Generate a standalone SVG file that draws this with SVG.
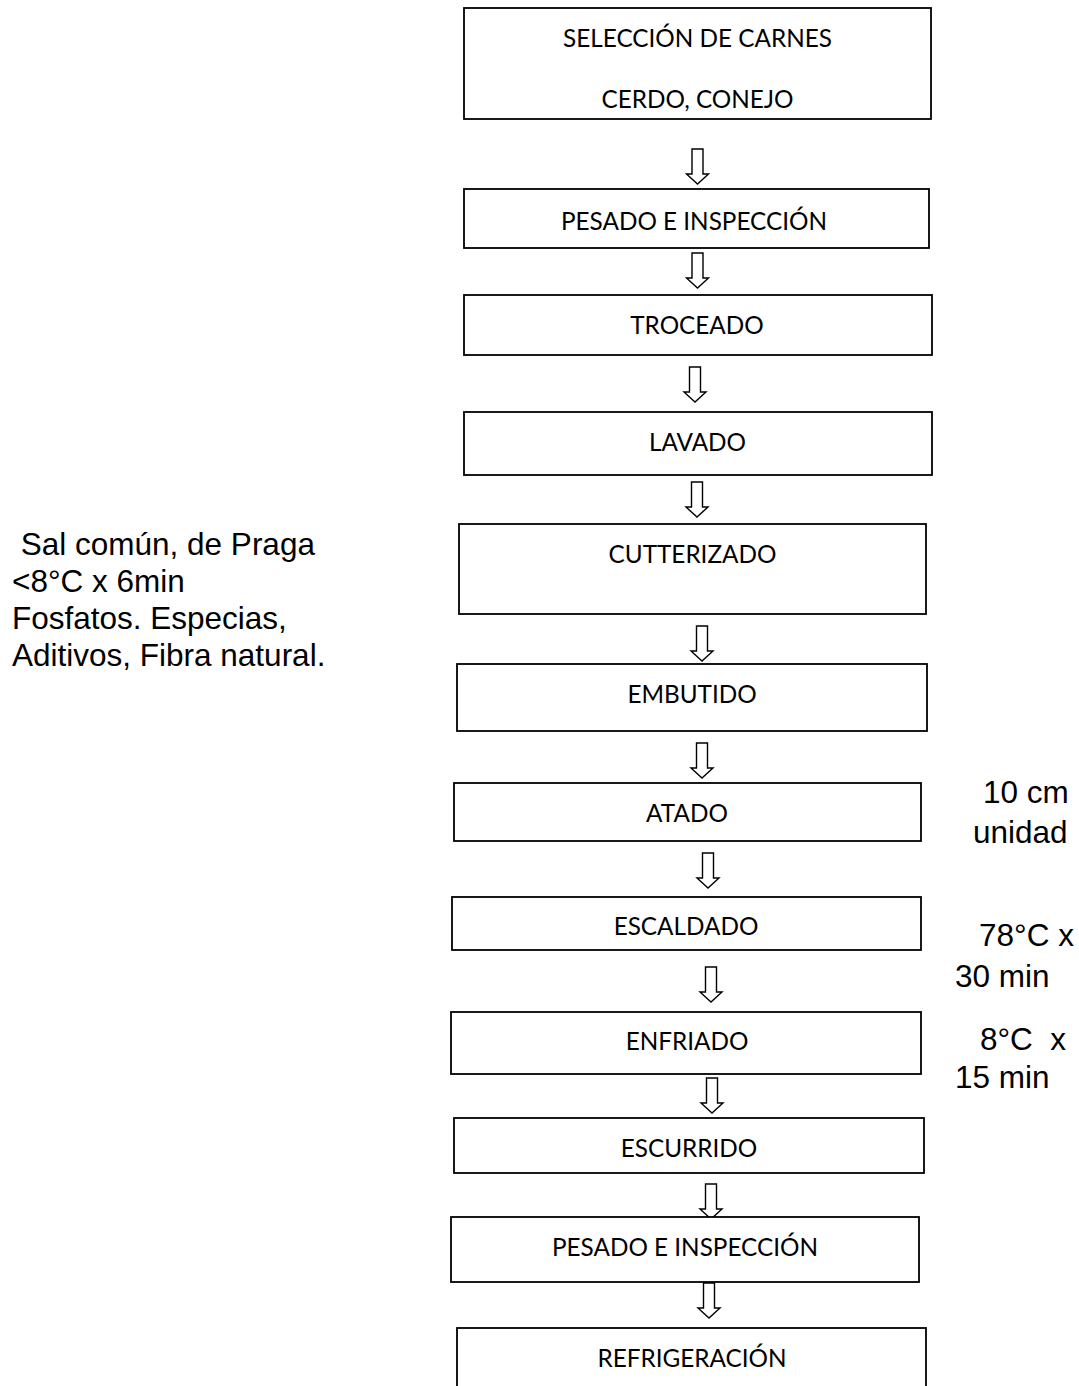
<svg xmlns="http://www.w3.org/2000/svg" xmlns:xlink="http://www.w3.org/1999/xlink" width="1079" height="1386" viewBox="0 0 1079 1386">
<style>
.box{fill:#fff;stroke:#000;stroke-width:1.8}
.t{font-family:Lato,"Liberation Sans",sans-serif;font-size:24.3px;fill:#000;text-anchor:middle}
.n{font-family:"Liberation Sans",Arial,sans-serif;font-size:31.5px;fill:#000}
.arr{fill:#fff;stroke:#000;stroke-width:1.4;stroke-linejoin:miter}
</style>
<defs>
<path id="arr" class="arr" d="M-5.5,0 H5.5 V25 H11 L0,35 L-11,25 H-5.5 Z"/>
</defs>
<rect width="1079" height="1386" fill="#fff"/>
<g id="connectors">
<use xlink:href="#arr" x="697.5" y="149"/>
<use xlink:href="#arr" x="697.5" y="253"/>
<use xlink:href="#arr" x="695" y="367"/>
<use xlink:href="#arr" x="697" y="482"/>
<use xlink:href="#arr" x="702" y="626"/>
<use xlink:href="#arr" x="702" y="743"/>
<use xlink:href="#arr" x="708" y="853"/>
<use xlink:href="#arr" x="711" y="967"/>
<use xlink:href="#arr" x="712" y="1078"/>
<use xlink:href="#arr" x="711" y="1184"/>
<use xlink:href="#arr" x="709" y="1283"/>
</g>
<g id="n1"><rect class="box" x="464" y="8" width="467" height="111"/><text class="t" x="697.5" y="47">SELECCIÓN DE CARNES</text><text class="t" x="697.5" y="108">CERDO, CONEJO</text></g>
<g id="n2"><rect class="box" x="464" y="189" width="465" height="59"/><text class="t" x="694" y="230">PESADO E INSPECCIÓN</text></g>
<g id="n3"><rect class="box" x="464" y="295" width="468" height="60"/><text class="t" x="697" y="334">TROCEADO</text></g>
<g id="n4"><rect class="box" x="464" y="412" width="468" height="63"/><text class="t" x="697.5" y="451">LAVADO</text></g>
<g id="n5"><rect class="box" x="459" y="524" width="467" height="90"/><text class="t" x="692.5" y="563">CUTTERIZADO</text></g>
<g id="n6"><rect class="box" x="457" y="664" width="470" height="67"/><text class="t" x="692" y="703">EMBUTIDO</text></g>
<g id="n7"><rect class="box" x="454" y="783" width="467" height="58"/><text class="t" x="687" y="822">ATADO</text></g>
<g id="n8"><rect class="box" x="452" y="897" width="469" height="53"/><text class="t" x="686" y="935">ESCALDADO</text></g>
<g id="n9"><rect class="box" x="451" y="1012" width="470" height="62"/><text class="t" x="687" y="1050">ENFRIADO</text></g>
<g id="n10"><rect class="box" x="454" y="1118" width="470" height="55"/><text class="t" x="689" y="1157">ESCURRIDO</text></g>
<g id="n11"><rect class="box" x="451" y="1217" width="468" height="65"/><text class="t" x="685" y="1256">PESADO E INSPECCIÓN</text></g>
<g id="n12"><rect class="box" x="457" y="1328" width="469" height="70"/><text class="t" x="692" y="1367">REFRIGERACIÓN</text></g>
<g id="notes">
<text class="n" xml:space="preserve"><tspan x="12" y="555"> Sal común, de Praga</tspan><tspan x="12" y="592">&lt;8°C x 6min</tspan><tspan x="12" y="629">Fosfatos. Especias,</tspan><tspan x="12" y="666">Aditivos, Fibra natural.</tspan></text>
<text class="n" xml:space="preserve"><tspan x="983" y="803">10 cm</tspan><tspan x="973" y="843">unidad</tspan></text>
<text class="n" xml:space="preserve"><tspan x="979" y="946">78°C x</tspan><tspan x="955" y="987">30 min</tspan></text>
<text class="n" xml:space="preserve"><tspan x="980" y="1050">8°C  x</tspan><tspan x="955" y="1088">15 min</tspan></text>
</g>
</svg>
